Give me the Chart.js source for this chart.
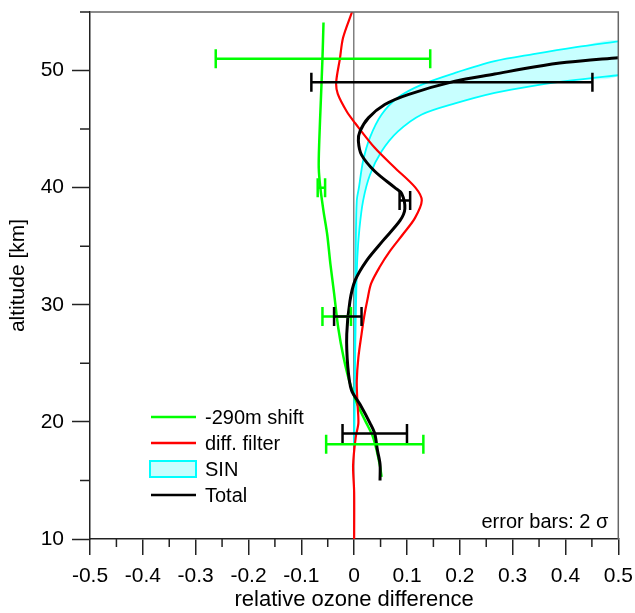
<!DOCTYPE html>
<html>
<head>
<meta charset="utf-8">
<title>relative ozone difference</title>
<script src="https://cdn.jsdelivr.net/npm/chart.js@4.4.1/dist/chart.umd.min.js"></script>
<style>
  html, body { margin: 0; padding: 0; background: #fff; }
  #wrap { width: 635px; height: 613px; }
</style>
</head>
<body>
<div id="wrap"><canvas id="ozone-chart"></canvas></div>
<script>
// profiles: x = relative ozone difference, y = altitude [km]
const shiftY = [15.3, 16.2, 17.5, 18.8, 20.0, 21.5, 23.3, 25.5, 28.0, 31.0, 33.5, 36.0, 38.0, 40.0, 41.7, 44.0, 47.5, 51.0, 54.1];
const shiftX = [0.052, 0.049, 0.043, 0.035, 0.022, 0.006, -0.008, -0.020, -0.030, -0.038, -0.045, -0.051, -0.058, -0.064, -0.067, -0.066, -0.063, -0.060, -0.058];

const filterY = [10.0, 14.0, 16.3, 18.7, 19.9, 21.8, 23.5, 25.5, 27.5, 29.0, 30.4, 31.8, 33.2, 34.6, 36.0, 37.4, 38.9, 40.0, 41.7, 43.4, 45.5, 46.5, 48.0, 49.0, 51.0, 52.8, 55.0];
const filterX = [0.000, 0.000, -0.002, 0.003, 0.008, 0.006, 0.005, 0.008, 0.014, 0.019, 0.025, 0.032, 0.048, 0.068, 0.092, 0.115, 0.128, 0.116, 0.077, 0.039, 0.002, -0.014, -0.031, -0.034, -0.027, -0.021, -0.004];

// SIN envelope, inner and outer edge
const sinInnerY = [18.0, 25.0, 30.0, 35.0, 38.9, 40.0, 42.3, 44.3, 46.25, 47.7, 48.8, 49.8, 50.8, 51.4, 52.0, 52.5];
const sinInnerX = [0.000, 0.001, 0.002, 0.003, 0.005, 0.009, 0.017, 0.030, 0.052, 0.083, 0.128, 0.191, 0.266, 0.339, 0.420, 0.500];
const sinOuterY = [18.0, 26.0, 31.0, 34.0, 36.5, 38.9, 41.1, 43.1, 44.8, 46.25, 47.2, 48.1, 48.7, 49.2, 49.6];
const sinOuterX = [0.000, 0.002, 0.004, 0.006, 0.010, 0.017, 0.030, 0.052, 0.083, 0.128, 0.191, 0.266, 0.339, 0.420, 0.500];

const totalY = [15.0, 16.4, 17.6, 19.0, 19.9, 21.5, 22.7, 24.7, 27.5, 30.3, 32.1, 33.8, 35.5, 37.2, 38.2, 39.5, 40.0, 41.4, 42.8, 44.0, 44.8, 45.96, 47.1, 47.95, 49.1, 49.7, 50.3, 50.7, 51.1];
const totalX = [0.049, 0.049, 0.044, 0.039, 0.030, 0.011, -0.005, -0.012, -0.014, -0.008, 0.002, 0.024, 0.055, 0.087, 0.096, 0.090, 0.077, 0.039, 0.014, 0.008, 0.011, 0.027, 0.058, 0.102, 0.191, 0.266, 0.340, 0.402, 0.500];

// 2 sigma error bars: altitude, centre, half width
const errShiftY = [51.0, 40.0, 29.0, 18.1];
const errShiftC = [-0.059, -0.062, -0.033, 0.039];
const errShiftH = [0.203, 0.007, 0.027, 0.092];
const errTotalY = [49.0, 38.9, 29.0, 19.0];
const errTotalC = [0.185, 0.096, -0.012, 0.039];
const errTotalH = [0.266, 0.010, 0.026, 0.061];

const minorX = [-0.45, -0.35, -0.25, -0.15, -0.05, 0.05, 0.15, 0.25, 0.35, 0.45];
const minorY = [15, 25, 35, 45, 55];

const FONT = "'Liberation Sans', Arial, sans-serif";
const GREEN = '#00ff00';
const RED = '#ff0000';
const CYAN = '#00ffff';
const CYAN_FILL = '#c8ffff';

const pts = (xs, ys) => xs.map((x, i) => ({ x: x, y: ys[i] }));

function errPoints(ys, cs, hs) {
  const out = [];
  ys.forEach((y, i) => {
    out.push({ x: cs[i] - hs[i], y: y });
    out.push({ x: cs[i] + hs[i], y: y });
    out.push({ x: null, y: null });
  });
  return out;
}

const sinInner = pts(sinInnerX, sinInnerY);
const sinOuter = pts(sinOuterX, sinOuterY);
const sinShape = sinInner.concat(sinOuter.slice().reverse());

const lineDefaults = { pointRadius: 0, pointHoverRadius: 0, fill: false, tension: 0.3 };
const barDefaults = {
  showLine: true, fill: false, tension: 0, spanGaps: false,
  pointStyle: 'line', rotation: 90, pointRadius: 9.5, pointHoverRadius: 9.5, borderWidth: 2.5, pointBorderWidth: 2.5
};

// minor ticks, frame, legend and note
const extras = {
  id: 'extras',
  afterDraw(chart) {
    const { ctx, chartArea: a, scales } = chart;
    ctx.save();
    ctx.lineWidth = 1.5;
    ctx.strokeStyle = '#666';
    ctx.beginPath();
    ctx.moveTo(a.left, a.top); ctx.lineTo(a.right, a.top); ctx.lineTo(a.right, a.bottom);
    ctx.stroke();

    ctx.strokeStyle = '#222';
    ctx.beginPath();
    minorX.forEach(v => {
      const px = scales.x.getPixelForValue(v);
      ctx.moveTo(px, a.bottom); ctx.lineTo(px, a.bottom + 8);
    });
    minorY.forEach(v => {
      const py = scales.y.getPixelForValue(v);
      ctx.moveTo(a.left - 10, py); ctx.lineTo(a.left, py);
    });
    ctx.stroke();

    // legend inside the plot
    const items = [
      { ds: chart.data.datasets[2], kind: 'line' },
      { ds: chart.data.datasets[3], kind: 'line' },
      { ds: chart.data.datasets[6], kind: 'box' },
      { ds: chart.data.datasets[4], kind: 'line' }
    ];
    const lx = a.left + 61, ly = a.top + 405, gap = 26;
    ctx.font = '20px ' + FONT;
    ctx.textBaseline = 'middle';
    ctx.textAlign = 'left';
    items.forEach((it, i) => {
      const y = ly + i * gap;
      if (it.kind === 'box') {
        ctx.fillStyle = CYAN_FILL;
        ctx.fillRect(lx - 1, y - 8, 46, 16);
        ctx.strokeStyle = CYAN;
        ctx.lineWidth = 2;
        ctx.strokeRect(lx - 1, y - 8, 46, 16);
      } else {
        ctx.strokeStyle = it.ds.borderColor;
        ctx.lineWidth = 2.5;
        ctx.beginPath();
        ctx.moveTo(lx, y); ctx.lineTo(lx + 45, y);
        ctx.stroke();
      }
      ctx.fillStyle = '#000';
      ctx.fillText(it.ds.label, lx + 54, y + 1);
    });

    ctx.textAlign = 'right';
    ctx.textBaseline = 'alphabetic';
    ctx.fillText('error bars: 2 \u03c3', a.right - 10, a.bottom - 11);
    ctx.restore();
  }
};

new Chart(document.getElementById('ozone-chart').getContext('2d'), {
  type: 'line',
  data: {
    datasets: [
      Object.assign({ label: 'error bars total', data: errPoints(errTotalY, errTotalC, errTotalH),
        borderColor: '#000', pointBorderColor: '#000', order: 0 }, barDefaults),
      Object.assign({ label: 'error bars shift', data: errPoints(errShiftY, errShiftC, errShiftH),
        borderColor: GREEN, pointBorderColor: GREEN, order: 1 }, barDefaults),
      Object.assign({ label: '-290m shift', data: pts(shiftX, shiftY),
        borderColor: GREEN, borderWidth: 2.5, order: 4 }, lineDefaults),
      Object.assign({ label: 'diff. filter', data: pts(filterX, filterY),
        borderColor: RED, borderWidth: 2.2, order: 3 }, lineDefaults),
      Object.assign({ label: 'Total', data: pts(totalX, totalY),
        borderColor: '#000', borderWidth: 3, order: 2 }, lineDefaults),
      Object.assign({ label: 'SIN inner', data: sinInner,
        borderColor: CYAN, borderWidth: 1.8, order: 5 }, lineDefaults),
      Object.assign({ label: 'SIN', data: sinShape,
        borderColor: 'rgba(0,0,0,0)', borderWidth: 0, backgroundColor: CYAN_FILL, order: 7 }, lineDefaults, { fill: 'shape' }),
      Object.assign({ label: 'SIN outer', data: sinOuter,
        borderColor: CYAN, borderWidth: 1.8, order: 6 }, lineDefaults)
    ]
  },
  options: {
    responsive: true,
    maintainAspectRatio: false,
    animation: false,
    layout: { padding: { top: 10.5, right: 16.7, left: 0, bottom: 0 } },
    plugins: {
      legend: { display: false },
      tooltip: { enabled: false }
    },
    scales: {
      x: {
        type: 'linear',
        min: -0.5,
        max: 0.5,
        afterFit: s => {
          s.height = 74;
          s.paddingLeft = 0;
          s.paddingRight = 0;
        },
        ticks: {
          stepSize: 0.1,
          padding: 9,
          maxRotation: 0,
          color: '#000',
          font: { family: FONT, size: 21 },
          callback: v => (Math.abs(v) < 1e-9 ? '0' : (+v).toFixed(1))
        },
        grid: {
          drawOnChartArea: true,
          color: c => (c.tick && Math.abs(c.tick.value) < 1e-9 ? '#808080' : 'rgba(0,0,0,0)'),
          lineWidth: 1.5,
          tickLength: 16,
          tickColor: '#222',
          tickWidth: 1.5
        },
        border: { display: true, color: '#222', width: 1.5 },
        title: {
          display: true,
          text: 'relative ozone difference',
          color: '#000',
          font: { family: FONT, size: 22 },
          padding: { top: 0, bottom: 0 }
        }
      },
      y: {
        type: 'linear',
        min: 10,
        max: 55,
        afterFit: s => {
          s.width = 90;
          s.paddingTop = 0;
          s.paddingBottom = 0;
        },
        ticks: {
          stepSize: 10,
          includeBounds: false,
          padding: 8,
          color: '#000',
          font: { family: FONT, size: 21 }
        },
        grid: {
          drawOnChartArea: false,
          tickLength: 18,
          tickColor: '#222',
          tickWidth: 1.5
        },
        border: { display: true, color: '#222', width: 1.5 },
        title: {
          display: true,
          text: 'altitude [km]',
          color: '#000',
          font: { family: FONT, size: 21 },
          padding: { top: 6, bottom: 0 }
        }
      }
    }
  },
  plugins: [extras]
});
</script>
</body>
</html>
